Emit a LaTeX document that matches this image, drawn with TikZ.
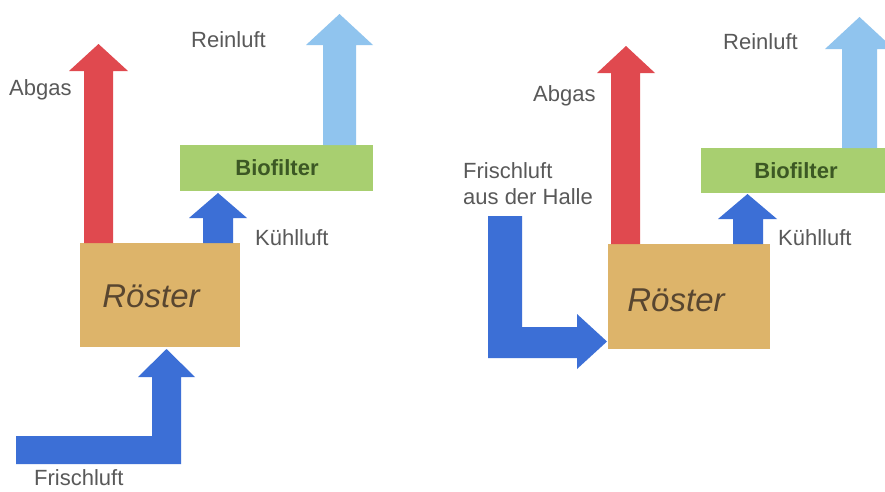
\documentclass[tikz,border=0pt]{standalone}
\usepackage{fontspec}
\setmainfont{Liberation Sans}
\begin{document}
\begin{tikzpicture}[x=1pt,y=-1pt,
  lbl/.style={font=\fontsize{22}{26}\selectfont, text=black!65, inner sep=0pt},
  boxR/.style={fill=tanc, draw=none, inner sep=0pt},
  boxB/.style={fill=greenc, draw=none, inner sep=0pt},
  rtext/.style={font=\itshape\fontsize{33}{36}\selectfont, text=brownc, inner sep=0pt},
  btext/.style={font=\bfseries\fontsize{22}{26}\selectfont, text=greentext, inner sep=0pt},
  redarr/.style={fill=redc, draw=none},
  bluearr/.style={fill=bluec, draw=none},
  lbluearr/.style={fill=lbluec, draw=none}]
\definecolor{tanc}{RGB}{221,180,106}
\definecolor{greenc}{RGB}{168,207,112}
\definecolor{greentext}{RGB}{60,88,36}
\definecolor{brownc}{RGB}{88,70,48}
\definecolor{redc}{RGB}{224,73,79}
\definecolor{bluec}{RGB}{60,111,214}
\definecolor{lbluec}{RGB}{144,196,238}
\useasboundingbox[fill=white] (0,0) rectangle (885,491);
\clip (0,0) rectangle (885,491);

% ---------------- left diagram ----------------
\node[boxR, minimum width=160pt, minimum height=104pt] (r1) at (160,295) {};
\node[rtext] (r1t) at (151,296) {Röster};
\node[boxB, minimum width=193pt, minimum height=46pt] (b1) at (276.5,168) {};
\node[btext] (b1t) at (277,168) {Biofilter};

\fill[redarr] (84,243) -- (84,71) -- (69,71) -- (98.5,44) -- (128,71) -- (113,71) -- (113,243) -- cycle;
\fill[bluearr] (203,243) -- (203,218) -- (189,218) -- (218,193) -- (247,218) -- (233,218) -- (233,243) -- cycle;
\fill[lbluearr] (323,145) -- (323,45) -- (306,45) -- (339.5,14) -- (373,45) -- (356,45) -- (356,145) -- cycle;
\fill[bluearr] (16,436) -- (152,436) -- (152,377) -- (138,377) -- (166.5,349) -- (195,377) -- (181,377) -- (181,464) -- (16,464) -- cycle;

\node[lbl, anchor=west] (a1) at (9,90) {Abgas};
\node[lbl, anchor=west] (re1) at (191,40) {Reinluft};
\node[lbl, anchor=west] (k1) at (255,238) {Kühlluft};
\node[lbl, anchor=west] (f1) at (34,478) {Frischluft};

% ---------------- right diagram ----------------
\node[boxR, minimum width=162pt, minimum height=105pt] (r2) at (689,296.5) {};
\node[rtext] (r2t) at (676,300) {Röster};
\node[boxB, minimum width=199pt, minimum height=45pt] (b2) at (800.5,170.5) {};
\node[btext] (b2t) at (796,171) {Biofilter};

\fill[redarr] (611,244) -- (611,73) -- (597,73) -- (626,46) -- (655,73) -- (640,73) -- (640,244) -- cycle;
\fill[bluearr] (733,244) -- (733,219) -- (718,219) -- (747.5,194) -- (777,219) -- (763,219) -- (763,244) -- cycle;
\fill[lbluearr] (842,148) -- (842,49) -- (825,49) -- (859.5,17) -- (894,49) -- (877,49) -- (877,148) -- cycle;
\fill[bluearr] (488,216) -- (522,216) -- (522,327) -- (577,327) -- (577,314) -- (607,341.5) -- (577,369) -- (577,358) -- (488,358) -- cycle;

\node[lbl, anchor=west] (a2) at (533,96) {Abgas};
\node[lbl, anchor=west] (re2) at (723,42) {Reinluft};
\node[lbl, anchor=west] (k2) at (778,238) {Kühlluft};
\node[lbl, anchor=north west, align=left, font=\fontsize{22}{26}\selectfont] (f2) at (463,162) {Frischluft\\aus der Halle};
\end{tikzpicture}
\end{document}
